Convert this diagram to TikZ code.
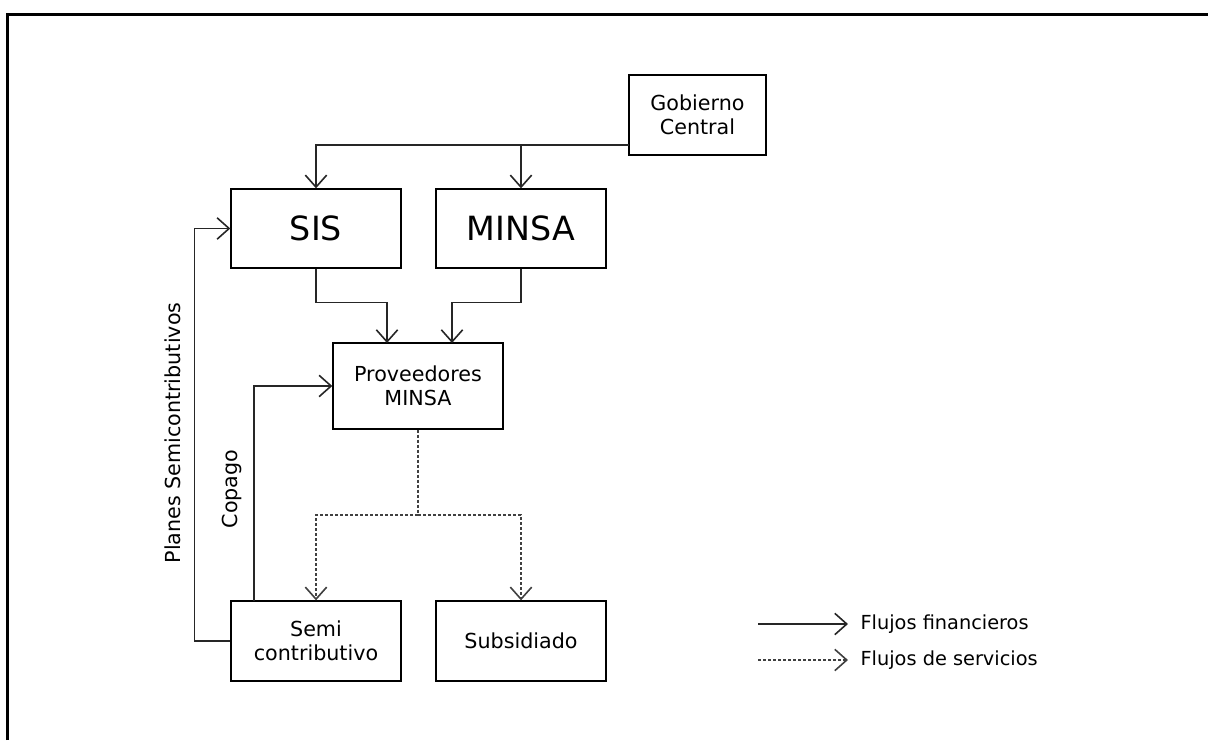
\documentclass[tikz,border=0pt]{standalone}
\usepackage{fontspec}
\setmainfont{DejaVu Sans}
\usetikzlibrary{arrows.meta}
\tikzset{
  caja/.style={draw, line width=1pt, align=center, inner sep=0pt, font=\fontsize{15.5}{18}\selectfont},
  cajagrande/.style={caja, font=\fontsize{25}{30}\selectfont},
  fin/.style={draw=black!85, line width=1pt, -{Straight Barb[length=9pt,width=16pt,line width=1.2pt]}},
  serv/.style={fin, draw=black!75, dash pattern={on 2.25pt off 1.5pt}},
  linea/.style={draw=black!85, line width=1pt},
  etiq/.style={font=\fontsize{15.5}{18}\selectfont, inner sep=1pt}
}
\begin{document}
\begin{tikzpicture}[x=0.75pt,y=0.75pt,yscale=-1,xscale=1]
\useasboundingbox (0,0) rectangle (1208,740);
\draw [line width=2.25pt] (7,740) -- (7,14) -- (1208,14) ;

\node [caja, minimum width=102.75pt, minimum height=60pt] (gob) at (697.5,115) {Gobierno\\Central};
\node [cajagrande, minimum width=127.5pt, minimum height=59.25pt] (sis) at (316,228.5) {SIS};
\node [cajagrande, minimum width=127.5pt, minimum height=59.25pt] (minsa) at (521,228.5) {MINSA};
\node [caja, minimum width=127.5pt, minimum height=64.5pt] (prov) at (418,386) {Proveedores\\MINSA};
\node [caja, minimum width=127.5pt, minimum height=60pt] (semi) at (316,641) {Semi\\contributivo};
\node [caja, minimum width=127.5pt, minimum height=60pt] (sub) at (521,641) {Subsidiado};

\coordinate (gj) at (629,145);
\coordinate (pa) at (387,343);
\coordinate (pb) at (452,343);
\coordinate (dj) at (418,515);
\coordinate (cop) at (254,601);

\draw [fin] (gj) -| (sis.north) ;
\draw [fin] (gj) -| (minsa.north) ;
\draw [fin] (sis.south) -- ++(0,34) -| (pa) ;
\draw [fin] (minsa.south) -- ++(0,34) -| (pb) ;
\draw [linea, dash pattern={on 2.25pt off 1.5pt}, draw=black!75] (prov.south) -- (dj) ;
\draw [serv] (dj) -| (semi.north) ;
\draw [serv] (dj) -| (sub.north) ;
\draw [fin] (cop) |- (prov.west) ;
\draw [fin] (semi.west) -- ++(-36,0) |- (sis.west) ;

\node [etiq, rotate=90] (lcop) at (232,489) {Copago};
\node [etiq, rotate=90] (lplan) at (173,433) {Planes Semicontributivos};

\coordinate (la1) at (758,624);
\coordinate (lb1) at (848,624);
\coordinate (la2) at (758,660);
\coordinate (lb2) at (848,660);
\draw [fin] (la1) -- (lb1) ;
\draw [serv] (la2) -- (lb2) ;
\node [etiq, anchor=west, font=\fontsize{14.5}{17}\selectfont] (lfin) at (859,624) {Flujos financieros};
\node [etiq, anchor=west, font=\fontsize{14.5}{17}\selectfont] (lserv) at (859,660) {Flujos de servicios};
\end{tikzpicture}
\end{document}
